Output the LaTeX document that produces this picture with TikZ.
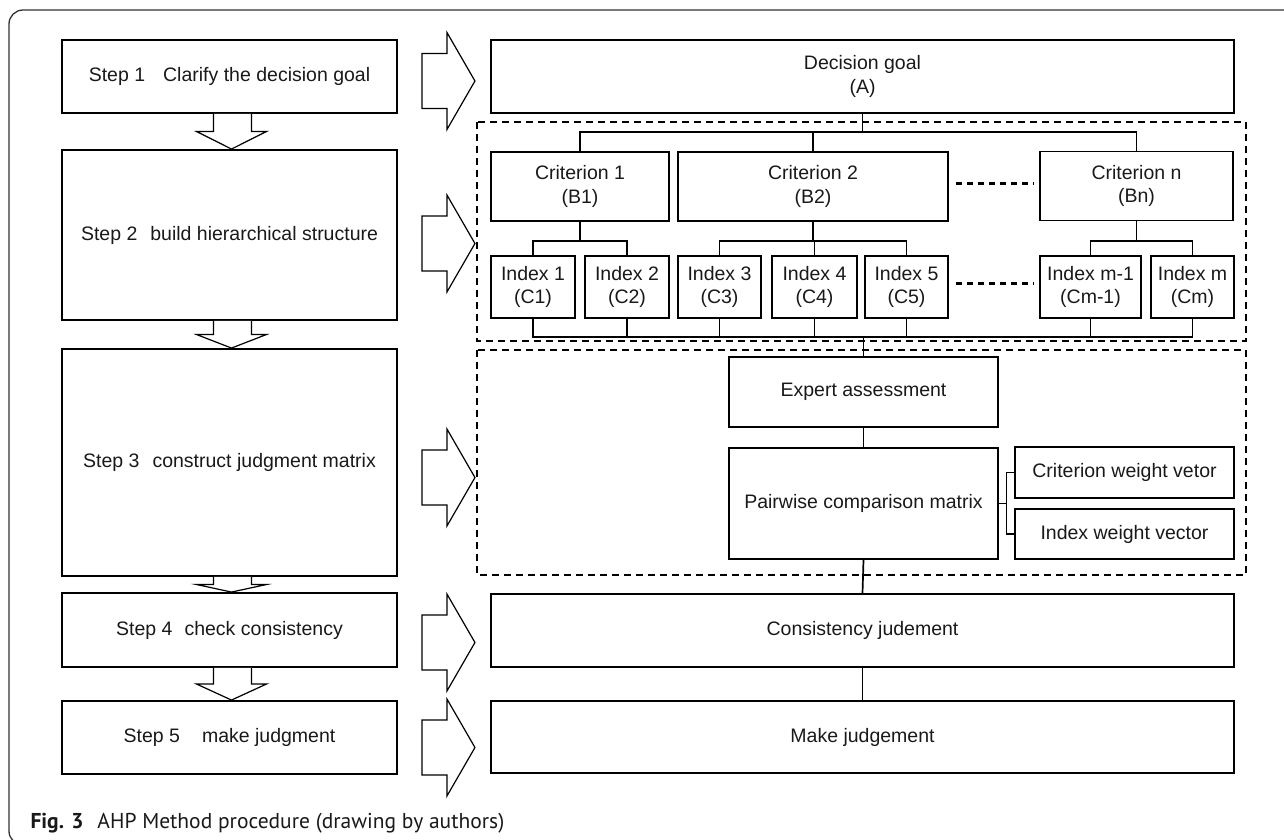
\documentclass[tikz,border=0pt]{standalone}
\usepackage{fontspec}
\setmainfont{Liberation Sans}
\newfontfamily\capfont{PT Sans}
\usetikzlibrary{calc}
\newcommand{\boxfont}{\fontsize{19.5}{23.5}\selectfont}
\tikzset{
	stepbox/.style={draw=black, line width=1.9pt, minimum width=335pt, inner sep=0pt, align=center},
	resbox/.style={draw=black, line width=1.6pt, inner sep=0pt, align=center},
	critbox/.style={resbox, line width=1.9pt, minimum height=69pt},
	idxbox/.style={resbox, line width=1.9pt, minimum height=62pt},
	tree/.style={draw=black, line width=1.7pt},
	dotline/.style={draw=black, line width=3pt, dash pattern=on 6pt off 5pt},
	dashbox/.style={draw=black, line width=1.8pt, dash pattern=on 7pt off 5pt},
	blockarrow/.style={draw=black, line width=1.2pt, fill=white, line join=miter},
}
% hollow block arrows
\newcommand{\fatright}[1]{%
	\draw[blockarrow] ($(#1)+(24,-23)$) -- ++(25,0) -- ++(0,-21) -- ++(28,48.5)
		-- ++(-28,48.5) -- ++(0,-21) -- ++(-25,0) -- cycle;}
\newcommand{\fatdown}[2]{%
	\coordinate (hb) at ($(#1.south)!0.5!(#2.north)$);
	\draw[blockarrow] ($(#1.south)+(-16,0)$) -- ($(hb)+(-16,0)$) -- ($(hb)+(-33,0)$)
		-- ($(#2.north)+(2,0)$) -- ($(hb)+(37,0)$) -- ($(hb)+(22,0)$) -- ($(#1.south)+(22,0)$);}

\begin{document}
\begin{tikzpicture}[x=1pt, y=-1pt, every node/.style={font=\boxfont, text=black!90}]
	\useasboundingbox (0,0) rectangle (1284,839);
	\clip (0,0) rectangle (1284,839);
	\draw[line width=1.3pt, draw=black!80, rounded corners=14pt] (9,10) rectangle (1320,845);
%
	\node[stepbox, minimum height=73pt] (s1) at (229.5,76.5) {Step 1\hspace{18pt}Clarify the decision goal};
	\node[stepbox, minimum height=170pt] (s2) at (229.5,235) {Step 2\hspace{13pt}build hierarchical structure};
	\node[stepbox, minimum height=227pt] (s3) at (229.5,462.5) {Step 3\hspace{13pt}construct judgment matrix};
	\node[stepbox, minimum height=74pt] (s4) at (229.5,630) {Step 4\hspace{12pt}check consistency};
	\node[stepbox, minimum height=73pt] (s5) at (229.5,737.5) {Step 5\hspace{22pt}make judgment};
	\fatdown{s1}{s2}
	\fatdown{s2}{s3}
	\fatdown{s3}{s4}
	\fatdown{s4}{s5}
	\fatright{s1.east}
	\fatright{$(s2.east)+(0,4)$}
	\fatright{$(s3.east)+(0,10.5)$}
	\fatright{$(s4.east)+(0,8)$}
	\fatright{$(s5.east)+(0,5.5)$}
%
	\draw[dashbox] (477,122) rectangle (1246,341);
	\draw[dashbox, line width=1.4pt] (477,350) rectangle (1246,575);
%
	\node[resbox, minimum width=743pt, minimum height=73pt] (goal) at (862.5,76.5) {Decision goal\\(A)};
	\node[critbox, minimum width=178pt] (c1) at (580,186.5) {Criterion 1\\(B1)};
	\node[critbox, minimum width=270pt] (c2) at (813,186.5) {Criterion 2\\(B2)};
	\node[critbox, line width=1.4pt, minimum width=193pt] (cn) at (1136.5,186) {Criterion n\\(Bn)};
	\node[idxbox, minimum width=84pt] (i1) at (533,287) {Index 1\\(C1)};
	\node[idxbox, minimum width=84pt] (i2) at (627,287) {Index 2\\(C2)};
	\node[idxbox, minimum width=83pt] (i3) at (719.5,287) {Index 3\\(C3)};
	\node[idxbox, minimum width=85pt] (i4) at (814.5,287) {Index 4\\(C4)};
	\node[idxbox, minimum width=83pt] (i5) at (906.5,287) {Index 5\\(C5)};
	\node[idxbox, minimum width=101pt] (im1) at (1090.5,287) {Index m-1\\(Cm-1)};
	\node[idxbox, minimum width=83pt] (im) at (1192.5,287) {Index m\\(Cm)};
	\draw[dotline] ([xshift=7pt]c2.east |- 0,183) -- ([xshift=-5pt]cn.west |- 0,183);
	\draw[dotline] ([xshift=7pt]i5.east |- 0,283) -- ([xshift=-5pt]im1.west |- 0,283);
%
	\coordinate (topbus) at (0,132);
	\coordinate (botbus) at (0,337);
	\draw[tree] (goal.south) -- (goal.south |- topbus);
	\draw[tree] (c1.north) |- (topbus -| cn.north) -- (cn.north);
	\draw[tree] (c2.north) -- (c2.north |- topbus);
	\draw[tree] (c1.south) -- ++(0,20);
	\draw[tree] (i1.north) |- (i2.north |- 0,241) -- (i2.north);
	\draw[tree] (c2.south) -- ++(0,20);
	\draw[tree] (i3.north) |- (i5.north |- 0,241) -- (i5.north);
	\draw[tree] (i4.north) -- ++(0,-15);
	\draw[tree] (cn.south) -- ++(0,20);
	\draw[tree] (im1.north) |- (im.north |- 0,241) -- (im.north);
	\draw[tree] (i1.south) |- (botbus -| im.south) -- (im.south);
	\foreach \n in {i2,i3,i4,i5,im1}
		\draw[tree] (\n.south) -- (\n.south |- botbus);
%
	\node[resbox, minimum width=269pt, minimum height=70pt] (ea) at (863.5,392) {Expert assessment};
	\node[resbox, minimum width=269pt, minimum height=111pt] (pm) at (863.5,503.5) {Pairwise comparison matrix};
	\node[resbox, minimum width=219pt, minimum height=51pt] (cwv) at (1124.5,472.5) {Criterion weight vetor};
	\node[resbox, minimum width=219pt, minimum height=50pt] (iwv) at (1124.5,534) {Index weight vector};
	\draw[tree] (ea.north |- botbus) -- (ea.north);
	\draw[tree] (ea.south) -- (pm.north);
	\coordinate (brk) at ($(pm.east)+(8,0)$);
	\draw[tree, line width=1.3pt] (pm.east) -- (brk);
	\draw[tree, line width=1.3pt] (cwv.west) -| (brk) |- (iwv.west);
%
	\node[resbox, minimum width=743pt, minimum height=73pt] (cj) at (862.5,630.5) {Consistency judement};
	\node[resbox, minimum width=743pt, minimum height=72pt] (mj) at (862.5,737) {Make judgement};
	\draw[tree] (pm.south) -- (cj.north);
	\draw[tree] (cj.south) -- (mj.north);
%
	\node[anchor=base west, font=\capfont\fontsize{21.5}{25}\selectfont] (cap) at (27,828)
		{\textbf{Fig. 3}\hspace{14pt}AHP Method procedure (drawing by authors)};
\end{tikzpicture}
\end{document}
